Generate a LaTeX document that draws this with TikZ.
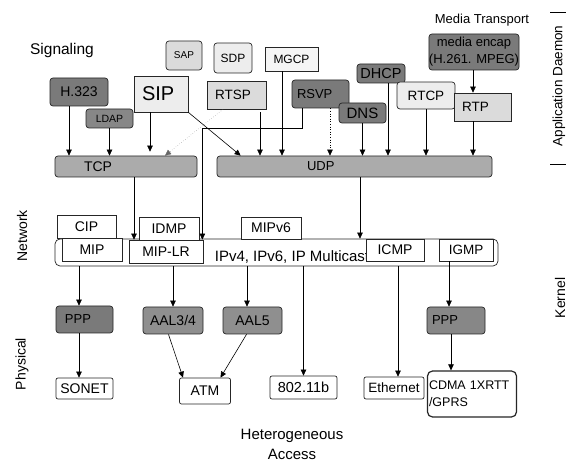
\documentclass[tikz,border=0pt]{standalone}
\usepackage{fontspec}
\setmainfont{Liberation Sans}
\usetikzlibrary{arrows.meta, calc}
\usepackage{xcolor}
\definecolor{shadeDark}{gray}{0.48}
\definecolor{shadeMid}{gray}{0.53}
\definecolor{shadeAal}{gray}{0.56}
\definecolor{shadeBar}{gray}{0.67}
\definecolor{shadeLight}{gray}{0.86}
\definecolor{shadePale}{gray}{0.93}
\definecolor{shadeWhite}{gray}{0.96}
\tikzset{
    >={Triangle[length=6pt,width=5.5pt]},
    % Text
    fs/.style={font=\fontsize{#1}{#1}\selectfont},
    side/.style={fs=13.5, rotate=90},
    % Shapes
    box/.style={rectangle, draw=black!85, line width=0.7pt, inner sep=0pt, align=center, fill=white},
    rbox/.style={box, rounded corners=3pt},
    sz/.style 2 args={minimum width=#1pt, minimum height=#2pt},
    pad/.style 2 args={text width=#1pt, minimum width=#1pt, align=left,
                       execute at begin node=\hspace*{#2pt}},
    bar/.style={rbox, fill=shadeBar, minimum height=21pt},
    % Flow
    flow/.style={->, line width=0.6pt},
    hint/.style={->, dotted, line width=0.6pt},
    tick/.style={line width=0.6pt}
}

\begin{document}
\begin{tikzpicture}[x=1pt, y=-1pt]
\useasboundingbox (0,0) rectangle (574,462);

% Application layer
\node[fs=15.5] (sig) at (62,50) {Signaling};
\node[rbox, fill=shadeLight, sz={36}{29}, fs=10] (sap) at (184,55.5) {SAP};
\node[rbox, fill=shadePale, sz={38}{30}, fs=12] (sdp) at (233,58) {SDP};
\node[box, fill=shadeWhite, sz={53}{24}, fs=12] (mgcp) at (291.5,59) {MGCP};
\node[rbox, fill=shadeDark, sz={58}{28}, fs=14] (h323) at (79,92) {H.323};
\node[rbox, fill=shadeMid, sz={47}{19}, fs=10.5] (ldap) at (109.5,118.5) {LDAP};
\node[box, fill=shadePale, pad={54}{8}, minimum height=36pt, fs=20] (sip) at (161,94) {SIP};
\node[box, fill=shadeLight, pad={59}{8}, minimum height=28pt, fs=13.5] (rtsp) at (236.5,95) {RTSP};

\node[fs=13] (medtr) at (482,20) {Media Transport};
\node[rbox, fill=shadeDark, sz={88}{36}, font=\fontsize{13}{17}\selectfont] (encap) at (474,52) {media encap\\(H.261. MPEG)};
\node[rbox, fill=shadeDark, sz={48}{19}, fs=14.5] (dhcp) at (381,73.5) {DHCP};
\node[rbox, fill=shadeDark, pad={57}{5}, minimum height=28pt, fs=13] (rsvp) at (320.5,94) {RSVP};
\node[rbox, fill=shadeDark, sz={47}{20}, fs=15] (dns) at (362.5,113) {DNS};
\node[rbox, fill=shadePale, sz={58}{27}, fs=13.5] (rtcp) at (426,95.5) {RTCP};
\node[box, fill=shadeLight, pad={57}{8}, minimum height=28pt, fs=13.5] (rtp) at (482.5,107) {RTP};

\node[bar, pad={142}{29}, fs=14] (tcp) at (126,166.5) {TCP};
\node[bar, pad={275}{90}, fs=13] (udp) at (354.5,166.5) {UDP};

% Network layer
\node[box, sz={59}{23}, fs=14] (cip) at (86.5,226.5) {CIP};
\node[rbox, sz={443}{27}, rounded corners=5pt] (ipbox) at (276.5,252.5) {};
\node[fs=15] (iplbl) at (292,257.5) {IPv4, IPv6, IP Multicast};
\node[box, sz={60}{23}, fs=14] (mip) at (92,249.5) {MIP};
\node[box, sz={60}{23}, fs=14] (idmp) at (169,228.5) {IDMP};
\node[box, sz={74}{23}, fs=14] (miplr) at (166,251.5) {MIP-LR};
\node[box, sz={60}{22}, fs=14] (mipv6) at (271,228) {MIPv6};
\node[box, sz={58}{22}, fs=14] (icmp) at (395,250) {ICMP};
\node[box, sz={54}{22}, fs=13.5] (igmp) at (466,250) {IGMP};

% Physical layer
\node[rbox, fill=shadeDark, pad={57}{9}, minimum height=27pt, fs=13] (pppa) at (84.5,319.5) {PPP};
\node[rbox, fill=shadeAal, sz={60}{27}, fs=14] (aal34) at (173,320.5) {AAL3/4};
\node[rbox, fill=shadeAal, sz={59}{27}, fs=14] (aal5) at (252.5,320.5) {AAL5};
\node[rbox, fill=shadeMid, pad={58}{5}, minimum height=27pt, fs=13] (pppb) at (456,320.5) {PPP};
\node[rbox, rounded corners=2pt, sz={57}{21}, fs=14] (sonet) at (84.5,388.5) {SONET};
\node[rbox, rounded corners=2pt, sz={51}{26}, fs=14] (atm) at (205,391) {ATM};
\node[rbox, rounded corners=2pt, sz={67}{23}, fs=14.5] (wlan) at (303.5,387.5) {802.11b};
\node[rbox, rounded corners=2pt, sz={60}{22}, fs=13.5] (eth) at (394,388) {Ethernet};
\node[rbox, line width=1.2pt, rounded corners=5pt, text width=86pt, inner xsep=1.5pt,
      minimum height=46pt, align=left, font=\fontsize{12.5}{17}\selectfont] (cdma) at (472,394) {CDMA 1XRTT\\/GPRS};
\node[align=center, font=\fontsize{15}{20}\selectfont] (hetero) at (292,444.5) {Heterogeneous\\Access};

% Side labels
\node[side] (appd) at (559,86) {Application Daemon};
\node[side, fs=14] (kern) at (560,298) {Kernel};
\node[side, fs=14] (netw) at (22,236) {Network};
\node[side, fs=14] (phys) at (22,364) {Physical};
\draw[tick] (550,12) -- (566,12);
\draw[tick] (550,164) -- (566,164);

% Arrows into TCP
\draw[flow] ([xshift=-10pt]h323.south) -- ([xshift=-10pt]h323.south |- tcp.north);
\draw[flow] (ldap.south) -- (ldap.south |- tcp.north);
\draw[flow, shorten >=4pt] ([xshift=-11pt]sip.south) -- ([xshift=-11pt]sip.south |- tcp.north);
\draw[hint, draw=black!60, line width=0.4pt] ([xshift=-13.5pt]rtsp.south) -- ([xshift=39pt]tcp.north);

% Arrows into UDP
\draw[flow] (sip.south east) -- ([xshift=24pt]udp.north west);
\draw[flow, shorten <=3pt] ([xshift=23.5pt]rtsp.south) -- ([xshift=23.5pt]rtsp.south |- udp.north);
\draw[flow] ([xshift=-9.5pt]mgcp.south) -- ([xshift=-9.5pt]mgcp.south |- udp.north);
\draw[hint] ([xshift=9.5pt]rsvp.south) -- ([xshift=9.5pt]rsvp.south |- udp.north);
\draw[flow] (dns.south) -- (dns.south |- udp.north);
\draw[flow] ([xshift=7pt]dhcp.south) -- ([xshift=7pt]dhcp.south |- udp.north);
\draw[flow] (rtcp.south) -- (rtcp.south |- udp.north);
\draw[flow] ([xshift=-9.5pt]rtp.south) -- ([xshift=-9.5pt]rtp.south |- udp.north);
\draw[flow] ([xshift=-1pt]encap.south) -- ([xshift=-1pt]encap.south |- rtp.north);

% Transport to network
\draw[flow] ([xshift=-18.5pt]rsvp.south) -- ++(0,20) -| ([xshift=-1pt]miplr.north east);
\draw[flow] ([xshift=8pt]tcp.south) -- ([xshift=8pt]tcp.south |- miplr.north);
\draw[flow] ([xshift=5.5pt]udp.south) -- ([xshift=5.5pt]udp.south |- ipbox.north);

% Network to physical
\draw[flow] ([xshift=-5.5pt]pppa.north |- ipbox.south) -- ([xshift=-5.5pt]pppa.north);
\draw[flow] (aal34.north |- ipbox.south) -- (aal34.north);
\draw[flow] ([xshift=-5.5pt]aal5.north |- ipbox.south) -- ([xshift=-5.5pt]aal5.north);
\draw[flow] (wlan.north |- ipbox.south) -- (wlan.north);
\draw[flow] ([xshift=4pt]eth.north |- ipbox.south) -- ([xshift=4pt]eth.north);
\draw[flow] ([xshift=-17pt]igmp.south) -- ([xshift=-17pt]igmp.south |- pppb.north);
\draw[flow] ([xshift=-5.5pt]pppa.south) -- ([xshift=-5.5pt]pppa.south |- sonet.north);
\draw[flow] ([xshift=-4.5pt]aal34.south) -- ([xshift=-22pt]atm.north);
\draw[flow] ([xshift=-6pt]aal5.south) -- ([xshift=15.5pt]atm.north);
\draw[flow] ([xshift=-5pt]pppb.south) -- ([xshift=-5pt]pppb.south |- cdma.north);

\end{tikzpicture}
\end{document}
